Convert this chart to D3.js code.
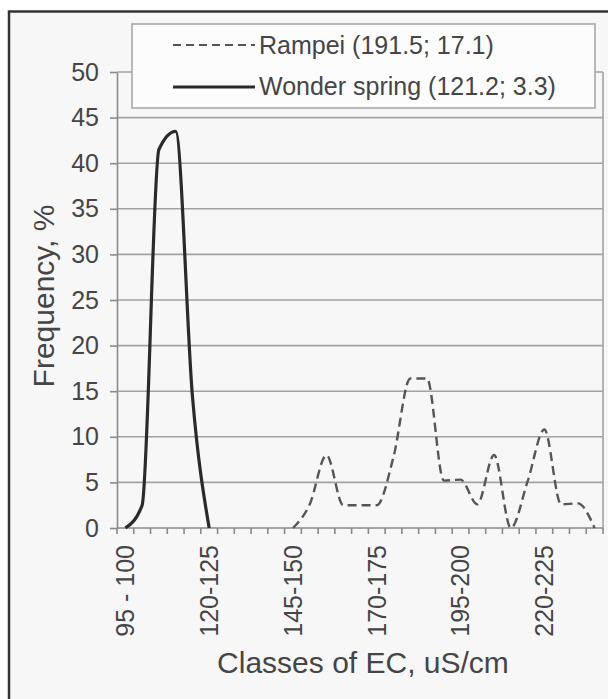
<!DOCTYPE html>
<html>
<head>
<meta charset="utf-8">
<script src="https://cdn.jsdelivr.net/npm/d3@7"></script>
<style>
  html, body { margin: 0; padding: 0; background: #ffffff; }
  svg { display: block; font-family: "Liberation Sans", Arial, sans-serif; }
</style>
</head>
<body>
<svg id="chart" width="608" height="699"></svg>
<script>
// ---- data ----
const categories = ["95 - 100","100-105","105-110","110-115","115-120","120-125","125-130","130-135",
  "135-140","140-145","145-150","150-155","155-160","160-165","165-170","170-175","175-180",
  "180-185","185-190","190-195","195-200","200-205","205-210","210-215","215-220","220-225",
  "225-230","230-235","235-240"];
const wonderSpring = [0, 2.5, 41.5, 43.5, 14.5, 0, null, null, null, null, null, null, null, null,
  null, null, null, null, null, null, null, null, null, null, null, null, null, null, null];
const rampei = [null, null, null, null, null, null, null, null, null, null, 0, 2.6, 8.0, 2.5, 2.5,
  2.5, 7.8, 16.4, 16.4, 5.2, 5.3, 2.6, 8.0, 0, 5.1, 10.8, 2.6, 2.7, 0];
const yTicks = [0, 5, 10, 15, 20, 25, 30, 35, 40, 45, 50];
const xLabelEvery = 5;
const seriesNames = ["Rampei (191.5; 17.1)", "Wonder spring (121.2; 3.3)"];
const yTitle = "Frequency, %";
const xTitle = "Classes of EC, uS/cm";

// ---- layout ----
const svg = d3.select("#chart");
const L = 117, R = 603, T = 72, B = 528;
const textColor = "#454545";

svg.append("rect").attr("x", 0).attr("y", 0).attr("width", 608).attr("height", 699).attr("fill", "#ffffff");
svg.append("rect").attr("x", 9).attr("y", 11.5).attr("width", 640).attr("height", 720)
  .attr("fill", "#f7f7f7").attr("stroke", "#333").attr("stroke-width", 2.5);

const x = d3.scaleBand().domain(categories).range([L, R]).paddingInner(0).paddingOuter(0);
const y = d3.scaleLinear().domain([0, 50]).range([B, T]);
const cx = c => x(c) + x.bandwidth() / 2;

// gridlines
svg.append("g").selectAll("line").data(yTicks.filter(t => t > 0)).join("line")
  .attr("x1", L).attr("x2", R).attr("y1", d => y(d)).attr("y2", d => y(d))
  .attr("stroke", "#a3a3a3").attr("stroke-width", 1.6);

// plot right border
svg.append("line").attr("x1", R).attr("x2", R).attr("y1", T).attr("y2", B)
  .attr("stroke", "#a3a3a3").attr("stroke-width", 1.6);

// y axis
const yAxis = svg.append("g").attr("transform", `translate(${L},0)`)
  .call(d3.axisLeft(y).tickValues(yTicks).tickSize(7).tickPadding(11).tickSizeOuter(0));
yAxis.select(".domain").attr("stroke", "#8a8a8a").attr("stroke-width", 1.6);
yAxis.selectAll(".tick line").attr("stroke", "#8a8a8a").attr("stroke-width", 1.6);
yAxis.selectAll(".tick text").attr("font-size", 25).attr("fill", textColor)
  .attr("font-family", "Liberation Sans, Arial, sans-serif");

// x axis
const xAxis = svg.append("g").attr("transform", `translate(0,${B})`);
xAxis.append("line").attr("x1", L).attr("x2", R).attr("y1", 0).attr("y2", 0)
  .attr("stroke", "#8a8a8a").attr("stroke-width", 1.6);
const boundaries = categories.map(c => x(c)).concat([R]);
xAxis.selectAll("line.tk").data(boundaries).join("line").attr("class", "tk")
  .attr("x1", d => d).attr("x2", d => d).attr("y1", 0).attr("y2", 6)
  .attr("stroke", "#8a8a8a").attr("stroke-width", 1.6);
xAxis.selectAll("text").data(categories.filter((c, i) => i % xLabelEvery === 0)).join("text")
  .attr("transform", d => `translate(${cx(d)},17) rotate(-90)`)
  .attr("text-anchor", "end").attr("dy", "0.35em")
  .attr("font-size", 25).attr("fill", textColor).text(d => d);

// lines
const lineGen = d3.line()
  .defined(d => d.v !== null)
  .x(d => cx(d.c)).y(d => y(d.v))
  .curve(d3.curveMonotoneX);
const toPts = arr => categories.map((c, i) => ({ c, v: arr[i] }));

svg.append("path").datum(toPts(rampei)).attr("d", lineGen)
  .attr("fill", "none").attr("stroke", "#555").attr("stroke-width", 2.4)
  .attr("stroke-dasharray", "9,5");
svg.append("path").datum(toPts(wonderSpring)).attr("d", lineGen)
  .attr("fill", "none").attr("stroke", "#2a2a2a").attr("stroke-width", 3.2);

// legend
const lg = svg.append("g");
lg.append("rect").attr("x", 132).attr("y", 24).attr("width", 463).attr("height", 84)
  .attr("fill", "#fcfcfc").attr("stroke", "#a8a8a8").attr("stroke-width", 1.6);
lg.append("line").attr("x1", 173).attr("x2", 255).attr("y1", 45).attr("y2", 45)
  .attr("stroke", "#555").attr("stroke-width", 2.2).attr("stroke-dasharray", "8,5");
lg.append("line").attr("x1", 173).attr("x2", 255).attr("y1", 87).attr("y2", 87)
  .attr("stroke", "#2a2a2a").attr("stroke-width", 3.2);
lg.append("text").attr("x", 259).attr("y", 54).attr("font-size", 25).attr("fill", textColor).text(seriesNames[0]);
lg.append("text").attr("x", 259).attr("y", 95).attr("font-size", 25).attr("fill", textColor).text(seriesNames[1]);

// axis titles
svg.append("text").attr("transform", "translate(54,296) rotate(-90)")
  .attr("text-anchor", "middle").attr("font-size", 30).attr("fill", textColor).text(yTitle);
svg.append("text").attr("x", 363).attr("y", 673)
  .attr("text-anchor", "middle").attr("font-size", 30).attr("fill", textColor).text(xTitle);
</script>
</body>
</html>
